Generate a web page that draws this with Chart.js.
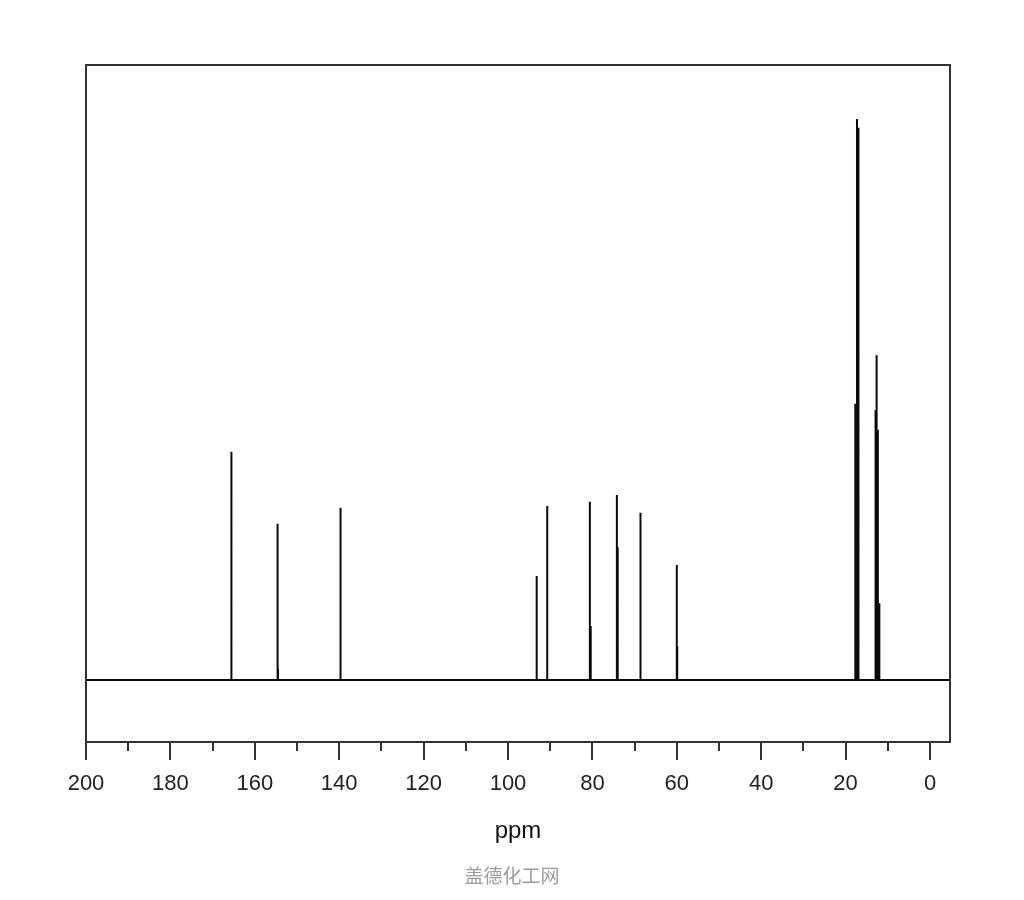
<!DOCTYPE html>
<html>
<head>
<meta charset="utf-8">
<title>13C NMR</title>
<script src="https://cdn.jsdelivr.net/npm/chart.js@4.4.1/dist/chart.umd.min.js"></script>
<style>
    html, body { margin: 0; padding: 0; background: #fff; }
    #wrap { position: relative; width: 1024px; height: 900px; }
    #watermark {
        position: absolute; left: 0; top: 865px; width: 1024px;
        text-align: center; font-family: "Noto Sans CJK SC", sans-serif;
        font-size: 19px; line-height: 19px; color: #9c9c9c;
    }
</style>
</head>
<body>
<div id="wrap">
    <canvas id="nmrCanvas" width="1024" height="900" style="width:1024px;height:900px"></canvas>
    <div id="watermark">盖德化工网</div>
</div>
<script>
// peak positions (ppm) and intensities
const peakPpm    = [165.6, 165.5, 154.6, 154.5, 139.8, 139.6, 93.2, 90.7, 80.6, 80.4, 74.2, 74.0, 68.6, 60.0, 59.9, 17.7, 17.3, 17.1, 16.95, 12.9, 12.65, 12.35, 12.0];
const peakHeight = [37.1, 1.6, 25.4, 1.8, 28.0, 8.5, 16.9, 28.3, 29.0, 8.8, 30.1, 21.6, 27.2, 18.7, 5.5, 44.9, 91.2, 7.3, 89.8, 43.9, 52.8, 40.7, 12.5];

const majorTicks = [200, 180, 160, 140, 120, 100, 80, 60, 40, 20, 0];
const minorTicks = [190, 170, 150, 130, 110, 90, 70, 50, 30, 10];
const axisRange = [-4.74, 200];
const intensityRange = [-10.08, 100];

document.addEventListener('DOMContentLoaded', function() {
    // baseline with a vertical stick for each peak
    const spectrum = [{ x: axisRange[1], y: 0 }];
    peakPpm.forEach((p, i) => {
        spectrum.push({ x: p, y: 0 }, { x: p, y: peakHeight[i] }, { x: p, y: 0 });
    });
    spectrum.push({ x: axisRange[0], y: 0 });

    const framePlugin = {
        id: 'frame',
        afterDraw(chart) {
            const { ctx, chartArea } = chart;
            const xs = chart.scales.x;
            ctx.save();
            ctx.strokeStyle = '#333';
            ctx.lineWidth = 2;
            ctx.strokeRect(chartArea.left, chartArea.top, chartArea.right - chartArea.left, chartArea.bottom - chartArea.top);
            // minor ticks (majors come from the scale grid)
            ctx.beginPath();
            minorTicks.forEach(v => {
                const px = Math.round(xs.getPixelForValue(v));
                ctx.moveTo(px, chartArea.bottom);
                ctx.lineTo(px, chartArea.bottom + 9);
            });
            ctx.stroke();
            ctx.restore();
        }
    };

    new Chart(document.getElementById('nmrCanvas').getContext('2d'), {
        type: 'line',
        data: {
            datasets: [{
                data: spectrum,
                borderColor: '#0a0a0a',
                borderWidth: 2,
                pointRadius: 0,
                tension: 0,
                fill: false
            }]
        },
        options: {
            responsive: false,
            animation: false,
            layout: { padding: { left: 86, right: 74, top: 65, bottom: 0 } },
            plugins: { legend: { display: false }, tooltip: { enabled: false } },
            scales: {
                x: {
                    type: 'linear',
                    reverse: true,
                    min: axisRange[0],
                    max: axisRange[1],
                    afterBuildTicks: s => { s.ticks = majorTicks.map(v => ({ value: v })); },
                    afterFit: s => { s.height = 158; },
                    grid: { display: true, drawOnChartArea: false, drawTicks: true, tickLength: 18, color: '#333', lineWidth: 2 },
                    border: { display: false },
                    ticks: {
                        autoSkip: false, maxRotation: 0, padding: 11,
                        color: '#222',
                        font: { family: '"Liberation Sans", Arial, sans-serif', size: 22 }
                    },
                    title: {
                        display: true, text: 'ppm', color: '#111',
                        font: { family: '"Liberation Sans", Arial, sans-serif', size: 24 },
                        padding: { top: 0, bottom: 54 }
                    }
                },
                y: { display: false, min: intensityRange[0], max: intensityRange[1] }
            }
        },
        plugins: [framePlugin]
    });
});
</script>
</body>
</html>
